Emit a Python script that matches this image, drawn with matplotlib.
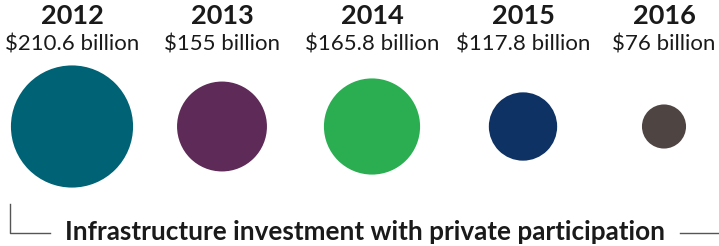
import matplotlib
matplotlib.use("Agg")
import matplotlib.pyplot as plt
from matplotlib.patches import Circle

years = ["2012", "2013", "2014", "2015", "2016"]
values = [210.6, 155, 165.8, 117.8, 76]
value_labels = ["$210.6 billion", "$155 billion", "$165.8 billion", "$117.8 billion", "$76 billion"]
colors = ["#006275", "#5e2a57", "#2bae52", "#0f3265", "#4e4542"]
title = "Infrastructure investment with private participation"

centers_x = [72, 222, 372, 523, 664]
center_y = 126.5
scale = 0.29  # px per billion (radius)

fig = plt.figure(figsize=(7.19, 2.46), dpi=100)
ax = fig.add_axes([0, 0, 1, 1])
ax.set_xlim(0, 719)
ax.set_ylim(246, 0)
ax.set_aspect("equal")
ax.axis("off")

for x, v, c, y, lab in zip(centers_x, values, colors, years, value_labels):
    ax.add_patch(Circle((x, center_y), v * scale, color=c, lw=0))
    ax.text(x, 16.5, y, ha="center", va="center", family="Lato", fontweight="bold",
            fontsize=19.5, color="#1a1a1a")
    ax.text(x, 44.5, lab, ha="center", va="center", family="Lato",
            fontsize=16, color="#1a1a1a")

line_c = "#555555"
ax.plot([9.5, 9.5, 50], [204, 233, 233], color=line_c, lw=1)
ax.plot([680, 719], [233, 233], color=line_c, lw=1)
ax.text(365, 231.5, title, ha="center", va="center", family="Lato",
        fontweight="bold", fontsize=18.8, color="#1a1a1a")

fig.savefig("out.png", dpi=100)
